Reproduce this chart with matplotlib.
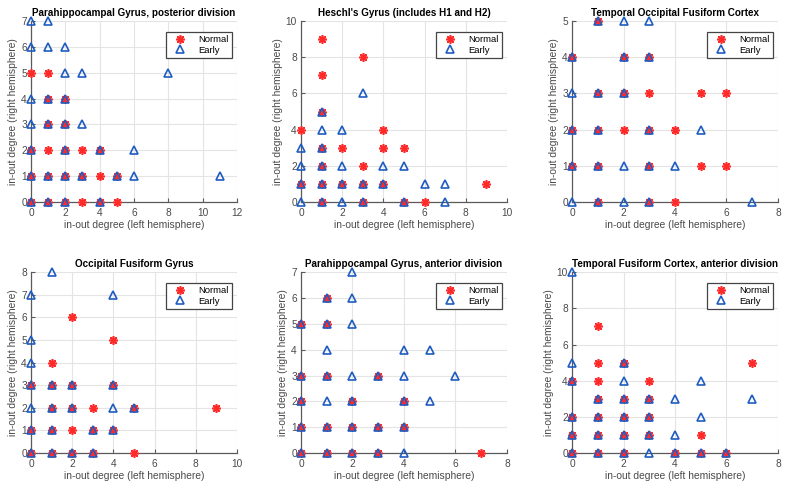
import matplotlib
matplotlib.use("Agg")
import matplotlib.pyplot as plt

plt.rcParams['font.family'] = ['Liberation Sans', 'DejaVu Sans']

titles = [
    "Parahippocampal Gyrus, posterior division",
    "Heschl's Gyrus (includes H1 and H2)",
    "Temporal Occipital Fusiform Cortex",
    "Occipital Fusiform Gyrus",
    "Parahippocampal Gyrus, anterior division",
    "Temporal Fusiform Cortex, anterior division",
]

# (left degree, right degree) pairs per panel
normal_1 = [(0,5),(1,5),(1,4),(2,4),(1,3),(2,3),(0,2),(1,2),(2,2),(3,2),(4,2),(0,1),(1,1),(2,1),
            (3,1),(4,1),(5,1),(0,0),(1,0),(2,0),(3,0),(4,0),(5,0)]
early_1 = [(0,7),(1,7),(0,6),(1,6),(2,6),(2,5),(3,5),(8,5),(0,4),(1,4),(2,4),(0,3),(1,3),(2,3),(3,3),
           (0,2),(2,2),(4,2),(6,2),(0,1),(1,1),(2,1),(3,1),(5,1),(6,1),(11,1),(0,0),(1,0),(2,0),(4,0)]

normal_2 = [(1,9),(3,8),(1,7),(1,5),(0,4),(4,4),(1,3),(2,3),(4,3),(5,3),(1,2),(3,2),(0,1),(1,1),(2,1),
            (3,1),(4,1),(9,1),(1,0),(3,0),(5,0),(6,0)]
early_2 = [(3,6),(1,5),(1,4),(2,4),(0,3),(1,3),(0,2),(1,2),(2,2),(4,2),(5,2),(0,1),(1,1),(2,1),(3,1),
           (4,1),(6,1),(7,1),(0,0),(1,0),(2,0),(3,0),(5,0),(7,0)]

normal_3 = [(1,5),(0,4),(2,4),(3,4),(1,3),(2,3),(3,3),(5,3),(6,3),(0,2),(1,2),(2,2),(3,2),(4,2),(0,1),
            (1,1),(3,1),(5,1),(6,1),(1,0),(3,0),(4,0)]
early_3 = [(1,5),(2,5),(3,5),(0,4),(2,4),(3,4),(0,3),(1,3),(2,3),(0,2),(1,2),(3,2),(5,2),(0,1),(1,1),
           (2,1),(3,1),(4,1),(0,0),(1,0),(2,0),(3,0),(7,0)]

normal_4 = [(2,6),(4,5),(1,4),(0,3),(1,3),(2,3),(4,3),(1,2),(2,2),(3,2),(5,2),(9,2),(0,1),(1,1),(2,1),
            (3,1),(4,1),(0,0),(1,0),(2,0),(3,0),(5,0)]
early_4 = [(1,8),(0,7),(4,7),(0,5),(0,4),(0,3),(1,3),(2,3),(4,3),(0,2),(1,2),(2,2),(4,2),(5,2),(0,1),
           (1,1),(3,1),(4,1),(0,0),(1,0),(2,0),(3,0)]

normal_5 = [(1,6),(0,5),(1,5),(0,3),(1,3),(3,3),(0,2),(2,2),(4,2),(0,1),(1,1),(2,1),(3,1),(4,1),(0,0),
            (1,0),(2,0),(3,0),(7,0)]
early_5 = [(2,7),(1,6),(2,6),(0,5),(1,5),(2,5),(1,4),(4,4),(5,4),(0,3),(1,3),(2,3),(3,3),(4,3),(6,3),
           (0,2),(1,2),(2,2),(4,2),(5,2),(0,1),(1,1),(2,1),(3,1),(4,1),(0,0),(1,0),(2,0),(3,0),(4,0)]

normal_6 = [(1,7),(1,5),(2,5),(7,5),(0,4),(1,4),(3,4),(1,3),(2,3),(3,3),(0,2),(1,2),(2,2),(3,2),(0,1),
            (1,1),(2,1),(3,1),(5,1),(0,0),(1,0),(2,0),(4,0),(5,0),(6,0)]
early_6 = [(0,10),(0,5),(2,5),(0,4),(2,4),(5,4),(1,3),(2,3),(3,3),(4,3),(7,3),(0,2),(1,2),(2,2),(3,2),
           (5,2),(0,1),(1,1),(2,1),(3,1),(4,1),(0,0),(1,0),(2,0),(3,0),(4,0),(5,0),(6,0)]

normals = [normal_1, normal_2, normal_3, normal_4, normal_5, normal_6]
earlies = [early_1, early_2, early_3, early_4, early_5, early_6]

x_max = [12, 10, 8, 10, 8, 8]
y_max = [7, 10, 5, 8, 7, 10]
y_step = [1, 2, 1, 1, 1, 2]

RED = '#ff2a2a'
BLUE = '#1f5cc0'
AX = '#5a5a5a'
TXT = '#4a4a4a'

fig = plt.figure(figsize=(7.89, 4.90), dpi=100)
lefts = [0.0393, 0.3815, 0.725]
bottoms = [0.5878, 0.0755]
w, h = 0.261, 0.369

for i in range(6):
    r, c = divmod(i, 3)
    ax = fig.add_axes([lefts[c], bottoms[r], w, h])
    nx = [p[0] for p in normals[i]]; ny = [p[1] for p in normals[i]]
    ex = [p[0] for p in earlies[i]]; ey = [p[1] for p in earlies[i]]
    ax.plot(nx, ny, linestyle='none', marker=(8, 2, 0), markersize=6.2,
            markeredgewidth=1.2, color=RED, label='Normal', zorder=3, clip_on=False)
    ax.plot(ex, ey, linestyle='none', marker='^', markersize=5.7, markerfacecolor='none',
            markeredgewidth=1.2, markeredgecolor=BLUE, label='Early', zorder=4, clip_on=False)
    ax.set_xlim(0, x_max[i])
    ax.set_ylim(0, y_max[i])
    ax.set_xticks(range(0, x_max[i] + 1, 2))
    ax.set_yticks(range(0, y_max[i] + 1, y_step[i]))
    ax.grid(True, color='#e4e4e4', linewidth=0.8)
    ax.set_axisbelow(True)
    for s in ['top', 'right']:
        ax.spines[s].set_visible(False)
    for s in ['left', 'bottom']:
        ax.spines[s].set_color(AX)
        ax.spines[s].set_linewidth(0.9)
    ax.tick_params(direction='in', length=3, width=0.8, colors=AX, labelsize=7.3,
                   labelcolor=TXT)
    ax.tick_params(axis='x', pad=4)
    ax.tick_params(axis='y', pad=3)
    ax.set_title(titles[i], fontsize=7.1, fontweight='bold', pad=4)
    ax.set_xlabel('in-out degree (left hemisphere)', fontsize=7.4, color=TXT, labelpad=1.5)
    ax.set_ylabel('in-out degree (right hemisphere)', fontsize=7.4, color=TXT, labelpad=2)
    leg = ax.legend(loc='upper right', bbox_to_anchor=(0.975, 0.94), fontsize=6.8,
                    fancybox=False, framealpha=1, edgecolor='#444444', handlelength=2.4,
                    borderpad=0.35, labelspacing=0.15, handletextpad=0.7, borderaxespad=0)
    leg.get_frame().set_linewidth(0.9)

fig.savefig('out.png', dpi=100)
